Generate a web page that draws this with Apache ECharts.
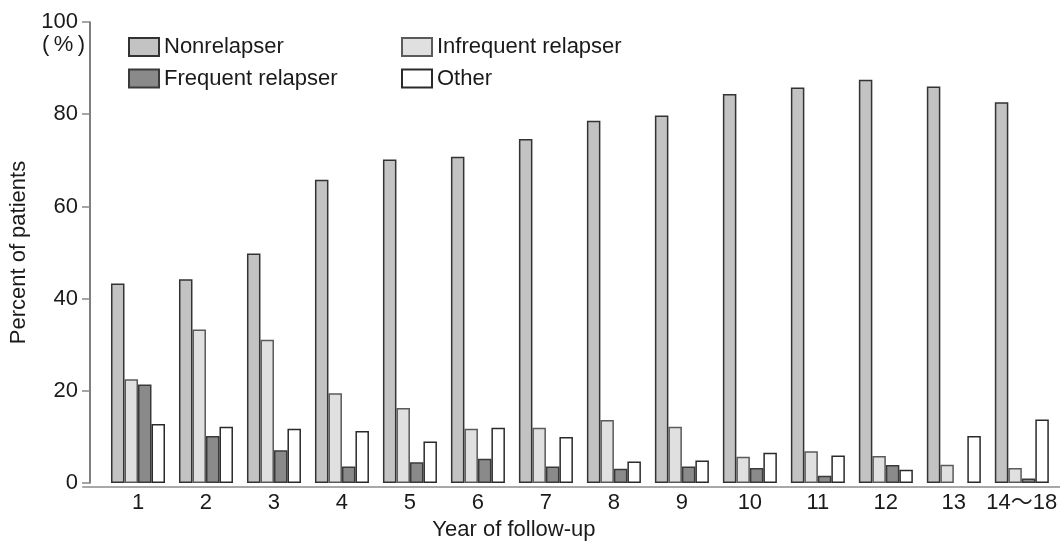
<!DOCTYPE html>
<html>
<head>
<meta charset="utf-8">
<script src="https://cdn.jsdelivr.net/npm/echarts@6/dist/echarts.min.js"></script>
<style>
html,body{margin:0;padding:0;background:#fff;}
#chart{width:1060px;height:546px;}
</style>
</head>
<body>
<div id="chart"></div>
<script>
var categories = ['1','2','3','4','5','6','7','8','9','10','11','12','13','14\u301C18'];
var yTicks = [0, 20, 40, 60, 80, 100];
var nonrelapser = [43.3, 44.2, 49.8, 65.8, 70.2, 70.8, 74.6, 78.6, 79.7, 84.4, 85.8, 87.5, 86.0, 82.6];
var infrequent  = [22.5, 33.3, 31.1, 19.5, 16.3, 11.8, 12.0, 13.7, 12.2, 5.7, 6.9, 5.9, 4.0, 3.3];
var frequent    = [21.4, 10.2, 7.1, 3.6, 4.5, 5.3, 3.6, 3.1, 3.6, 3.3, 1.6, 3.9, null, 1.0];
var other       = [12.8, 12.2, 11.8, 11.3, 9.0, 12.0, 10.0, 4.7, 4.9, 6.6, 6.0, 2.9, 10.2, 13.8];

var FONT = '"Liberation Sans", Arial, "Noto Sans CJK JP", sans-serif';
var chart = echarts.init(document.getElementById('chart'), null, {renderer: 'canvas'});

function barSeries(name, data, fill, border) {
  return {
    name: name,
    type: 'bar',
    data: data,
    xAxisIndex: 0,
    yAxisIndex: 0,
    barWidth: 13.5,
    barGap: '0%',
    itemStyle: {color: fill, borderColor: border, borderWidth: 1.5},
    emphasis: {disabled: true}
  };
}

var option = {
  animation: false,
  backgroundColor: '#ffffff',
  textStyle: {fontFamily: FONT, color: '#1a1a1a'},
  title: {
    text: '(\u2009%\u2009)',
    left: 37,
    top: 29,
    textStyle: {fontFamily: FONT, fontSize: 22, fontWeight: 'normal', color: '#1a1a1a'}
  },
  legend: [
    {
      data: ['Nonrelapser', 'Frequent relapser'],
      orient: 'vertical',
      left: 123,
      top: 31,
      itemWidth: 30,
      itemHeight: 18,
      itemGap: 9.5,
      itemTextGap: 8,
      icon: 'rect',
      selectedMode: false,
      textStyle: {fontFamily: FONT, fontSize: 22, color: '#1a1a1a'}
    },
    {
      data: ['Infrequent relapser', 'Other'],
      orient: 'vertical',
      left: 396,
      top: 31,
      itemWidth: 30,
      itemHeight: 18,
      itemGap: 9.5,
      itemTextGap: 8,
      icon: 'rect',
      selectedMode: false,
      textStyle: {fontFamily: FONT, fontSize: 22, color: '#1a1a1a'}
    }
  ],
  grid: [
    {left: 104, width: 960, top: 22, bottom: 59, containLabel: false},
    {left: 83, right: 0, top: 22, bottom: 59, containLabel: false}
  ],
  xAxis: [
    {
      type: 'category',
      gridIndex: 0,
      data: categories,
      boundaryGap: true,
      axisLine: {show: false},
      axisTick: {show: false},
      axisLabel: {fontFamily: FONT, fontSize: 22, color: '#1a1a1a', margin: 9, interval: 0},
      name: 'Year of follow-up',
      nameLocation: 'middle',
      nameGap: 30,
      nameTextStyle: {fontFamily: FONT, fontSize: 22, color: '#1a1a1a', padding: [0, 132, 0, 0]}
    },
    {
      type: 'value',
      gridIndex: 1,
      min: 0,
      max: 1,
      axisLine: {show: true, lineStyle: {color: '#a8a8a8', width: 2}},
      axisTick: {show: false},
      axisLabel: {show: false},
      splitLine: {show: false}
    }
  ],
  yAxis: [
    {
      type: 'value',
      gridIndex: 0,
      min: yTicks[0],
      max: yTicks[yTicks.length - 1],
      interval: 20,
      offset: 14,
      axisLine: {show: true, lineStyle: {color: '#555555', width: 1.5}},
      axisTick: {show: true, length: 8, lineStyle: {color: '#888888', width: 1.5}},
      axisLabel: {fontFamily: FONT, fontSize: 22, color: '#1a1a1a', margin: 12},
      splitLine: {show: false},
      name: 'Percent of patients',
      nameLocation: 'middle',
      nameGap: 60,
      nameTextStyle: {fontFamily: FONT, fontSize: 22, color: '#1a1a1a'}
    },
    {
      type: 'value',
      gridIndex: 1,
      show: false
    }
  ],
  series: [
    barSeries('Nonrelapser', nonrelapser, '#c3c3c3', '#333333'),
    barSeries('Infrequent relapser', infrequent, '#e0e0e0', '#5a5a5a'),
    barSeries('Frequent relapser', frequent, '#8a8a8a', '#3a3a3a'),
    barSeries('Other', other, '#ffffff', '#2a2a2a')
  ]
};
chart.setOption(option);
</script>
</body>
</html>
